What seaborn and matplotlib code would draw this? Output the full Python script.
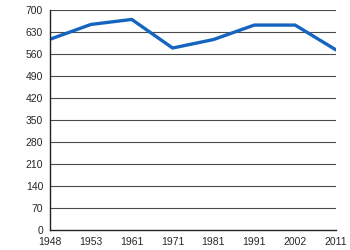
import matplotlib
matplotlib.use("Agg")
import matplotlib.pyplot as plt
import seaborn as sns
import pandas as pd

years = ["1948", "1953", "1961", "1971", "1981", "1991", "2002", "2011"]
values = [607, 654, 670, 579, 606, 652, 652, 573]
yticks = [0, 70, 140, 210, 280, 350, 420, 490, 560, 630, 700]

sns.set_style("white")
plt.rcParams["font.family"] = ["Liberation Sans", "DejaVu Sans"]

df = pd.DataFrame({"year": years, "value": values})
fig = plt.figure(figsize=(3.5, 2.5), dpi=100)
ax = fig.add_axes([0.143, 0.08, 0.817, 0.88])
sns.lineplot(data=df, x="year", y="value", ax=ax, color="#1565c0", linewidth=2.4, sort=False)
ax.set_ylim(0, 700)
ax.set_xlim(0, len(years) - 1)
ax.set_yticks(yticks)
ax.set_yticklabels([str(t) for t in yticks])
ax.set_xlabel("")
ax.set_ylabel("")
for t in yticks[1:]:
    ax.axhline(t, color="#4a4a4a", linewidth=0.8, zorder=0)
for s in ["top", "right"]:
    ax.spines[s].set_visible(False)
for s in ["left", "bottom"]:
    ax.spines[s].set_color("#222222")
    ax.spines[s].set_linewidth(1.0)
ax.tick_params(axis="x", direction="out", length=4, width=0.9, color="#222222", labelsize=7.5, pad=1)
ax.tick_params(axis="y", direction="out", length=3, width=0.9, color="#222222", labelsize=7.5, pad=2)
fig.savefig("out.png", dpi=100)
